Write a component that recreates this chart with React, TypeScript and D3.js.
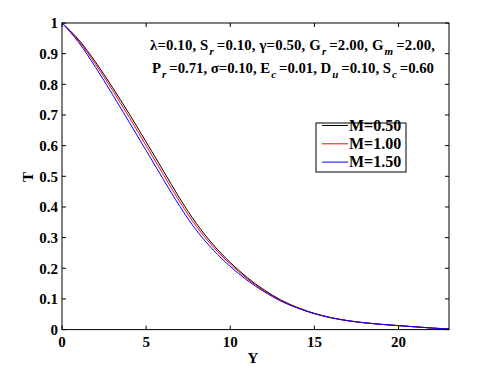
import React from "react";
import * as d3 from "d3";

const yValues = [0, 1, 2, 3, 4, 5, 6, 7, 8, 9, 10, 11, 12, 13, 14, 15, 16, 17, 18, 19, 20, 21, 22, 23];
const tM050 = [1.000, 0.945, 0.872, 0.790, 0.703, 0.612, 0.520, 0.428, 0.345, 0.276, 0.219, 0.170, 0.130, 0.097, 0.072, 0.053, 0.039, 0.029, 0.022, 0.017, 0.013, 0.009, 0.005, 0.002];
const tM100 = [1.000, 0.941, 0.865, 0.781, 0.692, 0.600, 0.508, 0.417, 0.336, 0.269, 0.214, 0.166, 0.127, 0.095, 0.071, 0.052, 0.039, 0.029, 0.022, 0.017, 0.013, 0.009, 0.005, 0.002];
const tM150 = [1.000, 0.936, 0.855, 0.767, 0.676, 0.584, 0.492, 0.402, 0.323, 0.259, 0.206, 0.161, 0.124, 0.093, 0.070, 0.052, 0.038, 0.029, 0.022, 0.017, 0.013, 0.009, 0.005, 0.002];
const seriesNames = ["M=0.50", "M=1.00", "M=1.50"];
const seriesColors = ["#000000", "#ff0000", "#0000ff"];
const xTicks = [0, 5, 10, 15, 20];
const yTicks = [0, 0.1, 0.2, 0.3, 0.4, 0.5, 0.6, 0.7, 0.8, 0.9, 1];

type Part = { t: string; sub?: boolean };
const line1: Part[] = [
  { t: "λ=0.10, S" }, { t: "r", sub: true }, { t: "=0.10, γ=0.50, G" }, { t: "r", sub: true },
  { t: "=2.00, G" }, { t: "m", sub: true }, { t: "=2.00," },
];
const line2: Part[] = [
  { t: "P" }, { t: "r", sub: true }, { t: "=0.71, σ=0.10, E" }, { t: "c", sub: true },
  { t: "=0.01, D" }, { t: "u", sub: true }, { t: "=0.10, S" }, { t: "c", sub: true }, { t: "=0.60" },
];

const W = 480, H = 375;
const left = 62, right = 449, top = 23, bottom = 329.6;
const font = "'Liberation Serif', 'Times New Roman', serif";

function RichLine({ parts, x, y, len }: { parts: Part[]; x: number; y: number; len: number }) {
  const out: React.ReactNode[] = [];
  let shifted = false;
  parts.forEach((p, i) => {
    if (p.sub) {
      out.push(
        <tspan key={i} dy={5} fontStyle="italic" fontSize={11} dx={1}>{p.t}</tspan>
      );
      shifted = true;
    } else {
      out.push(
        <tspan key={i} dy={shifted ? -5 : 0} dx={shifted ? 3 : 0}>{p.t}</tspan>
      );
      shifted = false;
    }
  });
  return (
    <text x={x} y={y} fontFamily={font} fontWeight="bold" fontSize={14.8} fill="#000"
      textLength={len} lengthAdjust="spacing">
      {out}
    </text>
  );
}

export default function App() {
  const x = d3.scaleLinear().domain([0, 23]).range([left, right]);
  const y = d3.scaleLinear().domain([0, 1]).range([bottom, top]);
  const series = [tM050, tM100, tM150];
  const line = d3
    .line<number>()
    .x((_, i) => x(yValues[i]))
    .y((d) => y(d))
    .curve(d3.curveMonotoneX);
  const tickLen = 4;

  return (
    <svg width={W} height={H} style={{ position: "absolute", left: 0, top: 0, background: "#fff" }}>
      <rect x={0} y={0} width={W} height={H} fill="#fff" />
      {series.map((s, i) => (
        <path key={i} d={line(s) || ""} fill="none" stroke={seriesColors[i]} strokeWidth={1} />
      ))}
      <rect x={left} y={top} width={right - left} height={bottom - top} fill="none" stroke="#000" strokeWidth={1} />
      {xTicks.map((t) => (
        <g key={"x" + t}>
          <line x1={x(t)} x2={x(t)} y1={bottom} y2={bottom - tickLen} stroke="#000" />
          <line x1={x(t)} x2={x(t)} y1={top} y2={top + tickLen} stroke="#000" />
          <text x={x(t)} y={347} textAnchor="middle" fontFamily={font} fontWeight="bold" fontSize={15}>
            {t}
          </text>
        </g>
      ))}
      {yTicks.map((t) => (
        <g key={"y" + t}>
          <line x1={left} x2={left + tickLen} y1={y(t)} y2={y(t)} stroke="#000" />
          <line x1={right} x2={right - tickLen} y1={y(t)} y2={y(t)} stroke="#000" />
          <text x={58} y={y(t)} dy="0.35em" textAnchor="end" fontFamily={font} fontWeight="bold" fontSize={15}>
            {d3.format("~g")(t)}
          </text>
        </g>
      ))}
      <text x={253} y={363} textAnchor="middle" fontFamily={font} fontWeight="bold" fontSize={15}>Y</text>
      <text transform="translate(33,177) rotate(-90)" textAnchor="middle" fontFamily={font} fontWeight="bold" fontSize={15}>T</text>
      <RichLine parts={line1} x={150} y={50} len={285} />
      <RichLine parts={line2} x={152} y={73} len={282} />
      <rect x={316} y={123} width={90} height={49} fill="#fff" stroke="#000" strokeWidth={1} />
      {seriesNames.map((n, i) => (
        <g key={n}>
          <line x1={322} x2={348} y1={125.5 + i * 18.3} y2={125.5 + i * 18.3} stroke={seriesColors[i]} />
          <text x={349} y={130.5 + i * 18.3} fontFamily={font} fontWeight="bold" fontSize={16}>{n}</text>
        </g>
      ))}
    </svg>
  );
}
